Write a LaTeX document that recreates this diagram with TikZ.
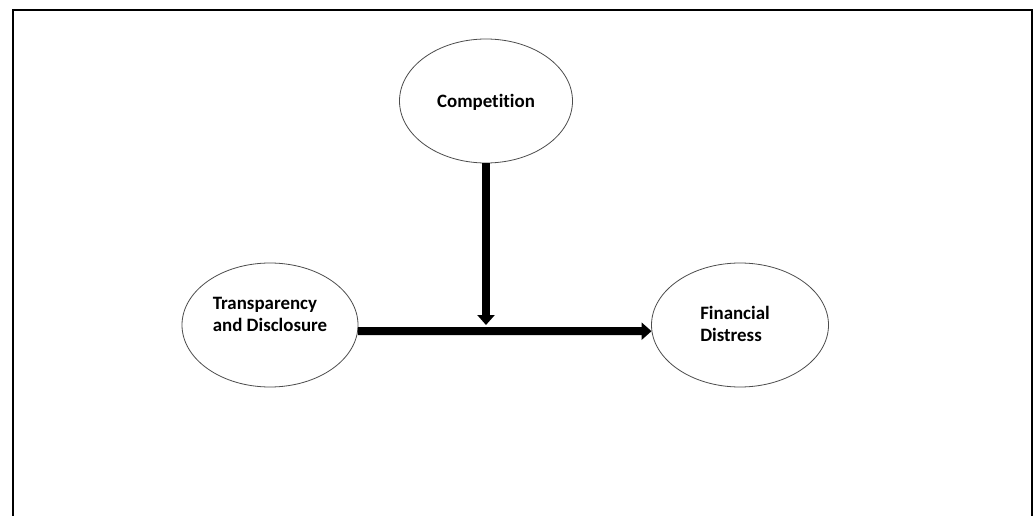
\documentclass[tikz,border=0pt]{standalone}
\usepackage{fontspec}
\setmainfont[Ligatures={NoCommon}]{Carlito}
\usetikzlibrary{arrows.meta,shapes.geometric}
\begin{document}
\begin{tikzpicture}[x=1pt,y=-1pt,
  oval/.style={ellipse, draw=black!70, line width=0.8pt, minimum width=176pt, minimum height=124pt, inner sep=0pt},
  lbl/.style={font=\fontsize{18.9}{22}\selectfont\bfseries, align=left},
  thick arrow/.style={line width=7.5pt, -{Triangle[width=17pt,length=10pt]}}]
\useasboundingbox (0,0) rectangle (1035,516);
\fill[white] (0,0) rectangle (1035,516);
\draw[line width=2pt] (13,517) -- (13,10) -- (1032,10) -- (1032,517);
\node[oval, minimum width=173pt] (C) at (486,101) {};
\node[lbl] at ([yshift=-1pt]C.center) {Competition};
\node[oval] (T) at (270,325) {};
\node[lbl] at ([yshift=11pt]T.center) {Transparency\\and Disclosure};
\node[oval, minimum width=177pt] (F) at (740,325) {};
\node[lbl] at ([xshift=-5pt,yshift=1pt]F.center) {Financial\\Distress};
\coordinate (M) at (486,325);
\draw[thick arrow] (C.south) -- (M);
\draw[thick arrow, line width=8pt] (T.-4.6) -- (F.184.6);
\end{tikzpicture}
\end{document}
